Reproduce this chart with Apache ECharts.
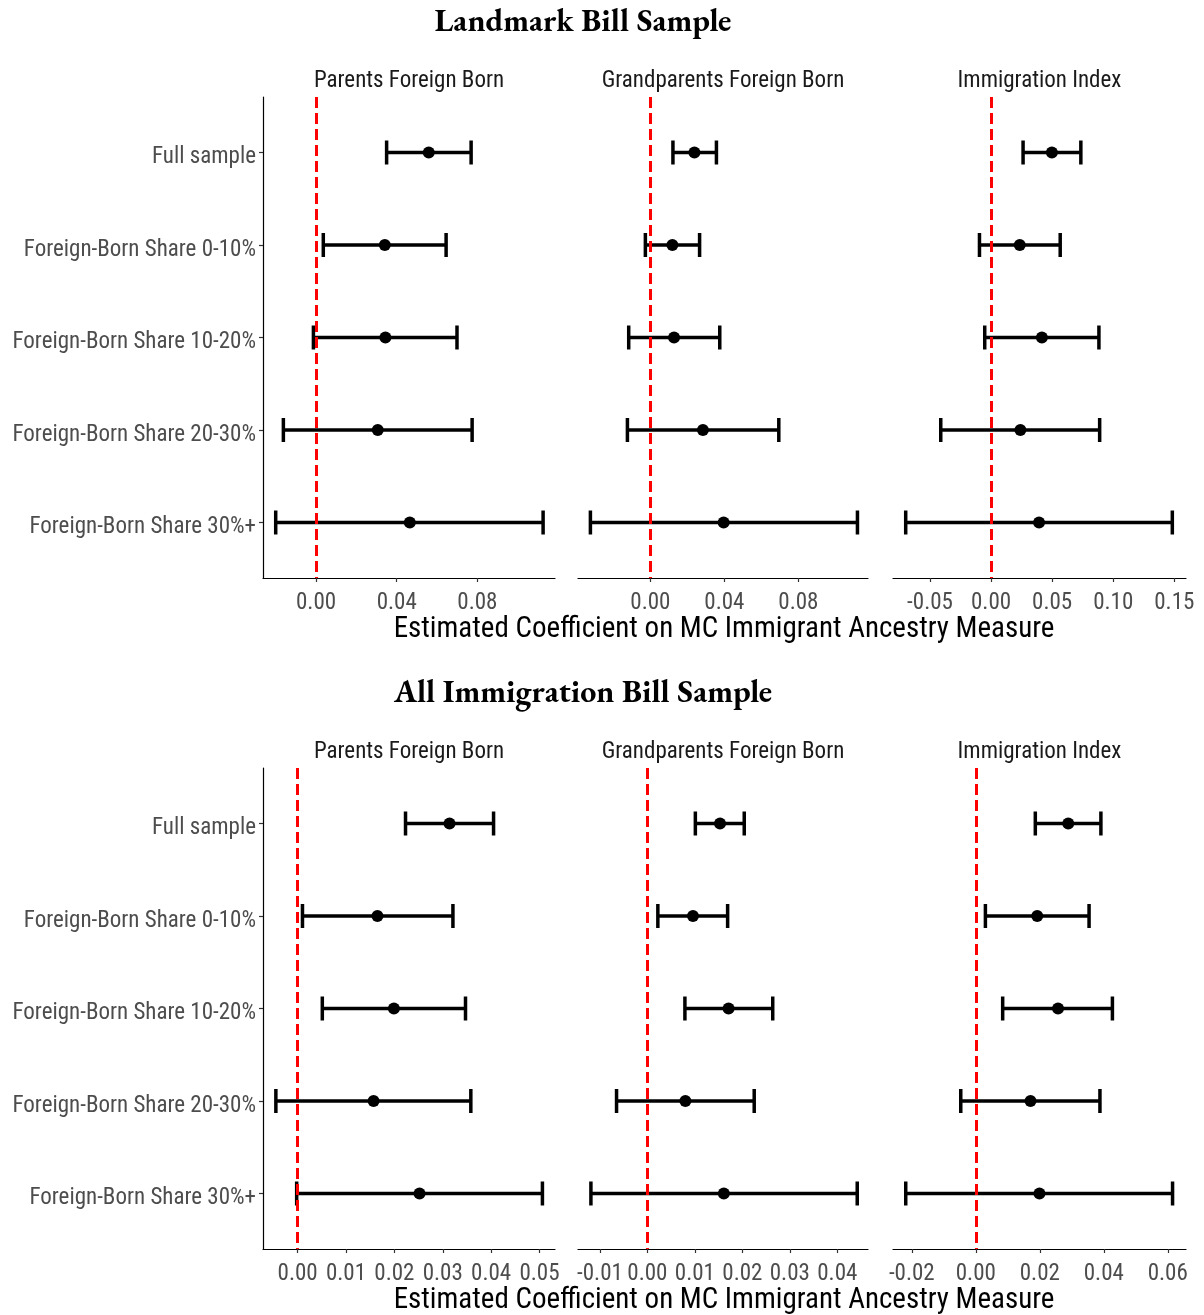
<!DOCTYPE html>
<html>
<head>
<meta charset="utf-8">
<script src="https://cdn.jsdelivr.net/npm/echarts@6/dist/echarts.min.js"></script>
<style>html,body{margin:0;padding:0;background:#fff}#main{width:1204px;height:1315px}</style>
</head>
<body>
<div id="main"></div>
<script>
// ---------- Data ----------
const categories = ["Full sample", "Foreign-Born Share 0-10%", "Foreign-Born Share 10-20%", "Foreign-Born Share 20-30%", "Foreign-Born Share 30%+"];
const panelTitles = ["Parents Foreign Born", "Grandparents Foreign Born", "Immigration Index"];
const sectionTitles = ["Landmark Bill Sample", "All Immigration Bill Sample"];
const xAxisTitle = "Estimated Coefficient on MC Immigrant Ancestry Measure";

// Landmark Bill Sample
const landmarkParentsEst  = [0.0559, 0.0341, 0.0344, 0.0306, 0.0465];
const landmarkParentsLow  = [0.0350, 0.0036, -0.0013, -0.0162, -0.0200];
const landmarkParentsHigh = [0.0769, 0.0645, 0.0699, 0.0774, 0.1126];

const landmarkGrandEst  = [0.0238, 0.0119, 0.0128, 0.0284, 0.0396];
const landmarkGrandLow  = [0.0122, -0.0027, -0.0117, -0.0124, -0.0324];
const landmarkGrandHigh = [0.0357, 0.0266, 0.0375, 0.0694, 0.1119];

const landmarkIndexEst  = [0.0498, 0.0235, 0.0416, 0.0240, 0.0393];
const landmarkIndexLow  = [0.0262, -0.0095, -0.0052, -0.0412, -0.0699];
const landmarkIndexHigh = [0.0735, 0.0566, 0.0883, 0.0889, 0.1484];

// All Immigration Bill Sample
const allParentsEst  = [0.0314, 0.0165, 0.0199, 0.0157, 0.0252];
const allParentsLow  = [0.0223, 0.0010, 0.0051, -0.0045, -0.0002];
const allParentsHigh = [0.0405, 0.0321, 0.0347, 0.0358, 0.0506];

const allGrandEst  = [0.0153, 0.0096, 0.0171, 0.0080, 0.0161];
const allGrandLow  = [0.0101, 0.0022, 0.0079, -0.0065, -0.0119];
const allGrandHigh = [0.0204, 0.0169, 0.0264, 0.0225, 0.0442];

const allIndexEst  = [0.0289, 0.0192, 0.0257, 0.0171, 0.0199];
const allIndexLow  = [0.0186, 0.0030, 0.0084, -0.0047, -0.0219];
const allIndexHigh = [0.0391, 0.0354, 0.0427, 0.0388, 0.0615];

// tick labels per panel
const landmarkParentsTicks = [0.00, 0.04, 0.08];
const landmarkGrandTicks   = [0.00, 0.04, 0.08];
const landmarkIndexTicks   = [-0.05, 0.00, 0.05, 0.10, 0.15];
const allParentsTicks = [0.00, 0.01, 0.02, 0.03, 0.04, 0.05];
const allGrandTicks   = [-0.01, 0.00, 0.01, 0.02, 0.03, 0.04];
const allIndexTicks   = [-0.02, 0.00, 0.02, 0.04, 0.06];

// axis ranges per panel
const landmarkParentsRange = [-0.0263, 0.1185];
const landmarkGrandRange   = [-0.0391, 0.1176];
const landmarkIndexRange   = [-0.0803, 0.1596];
const allParentsRange = [-0.00716, 0.0532];
const allGrandRange   = [-0.01462, 0.04647];
const allIndexRange   = [-0.02588, 0.0657];

// ---------- Build ----------
const panels = [
  {est: landmarkParentsEst, low: landmarkParentsLow, high: landmarkParentsHigh, ticks: landmarkParentsTicks, range: landmarkParentsRange},
  {est: landmarkGrandEst, low: landmarkGrandLow, high: landmarkGrandHigh, ticks: landmarkGrandTicks, range: landmarkGrandRange},
  {est: landmarkIndexEst, low: landmarkIndexLow, high: landmarkIndexHigh, ticks: landmarkIndexTicks, range: landmarkIndexRange},
  {est: allParentsEst, low: allParentsLow, high: allParentsHigh, ticks: allParentsTicks, range: allParentsRange},
  {est: allGrandEst, low: allGrandLow, high: allGrandHigh, ticks: allGrandTicks, range: allGrandRange},
  {est: allIndexEst, low: allIndexLow, high: allIndexHigh, ticks: allIndexTicks, range: allIndexRange}
];

const FONT = '"Roboto Condensed", Roboto, sans-serif';
const SERIF = '"EB Garamond", "Liberation Serif", serif';
const lefts = [263, 578, 893];
const widths = [292, 290, 293];
const tops = [97, 768];
const gridH = 481;
const yPos = [1, 2, 3, 4, 5];

const grids = [], xAxes = [], yAxes = [], series = [], graphics = [];

panels.forEach((p, i) => {
  const row = Math.floor(i / 3), col = i % 3;
  grids.push({left: lefts[col], top: tops[row], width: widths[col], height: gridH, containLabel: false});
  xAxes.push({
    type: 'value', gridIndex: i, min: p.range[0], max: p.range[1],
    splitLine: {show: false},
    axisLine: {show: true, onZero: false, lineStyle: {color: '#000', width: 1.2}},
    axisTick: {show: true, length: 4, customValues: p.ticks, lineStyle: {color: '#333', width: 1.2}},
    axisLabel: {show: true, customValues: p.ticks, margin: 14, color: '#4D4D4D', fontFamily: FONT, fontSize: 23,
      formatter: v => (Math.abs(v) < 1e-9 ? 0 : v).toFixed(2)}
  });
  const first = col === 0;
  yAxes.push({
    type: 'value', gridIndex: i, min: 0.4, max: 5.6, inverse: true,
    splitLine: {show: false},
    axisLine: {show: first, onZero: false, lineStyle: {color: '#000', width: 1.2}},
    axisTick: {show: first, length: 4, customValues: yPos, lineStyle: {color: '#333', width: 1.2}},
    axisLabel: {show: first, customValues: yPos, margin: 7, color: '#4D4D4D', fontFamily: FONT, fontSize: 23,
      verticalAlign: 'top', lineHeight: 10,
      formatter: v => categories[Math.round(v) - 1] || ''}
  });
  // error bars
  series.push({
    type: 'custom', xAxisIndex: i, yAxisIndex: i, z: 2,
    data: yPos.map((y, k) => [p.low[k], p.high[k], y]),
    encode: {x: [0, 1], y: 2},
    renderItem: (params, api) => {
      const a = api.coord([api.value(0), api.value(2)]);
      const b = api.coord([api.value(1), api.value(2)]);
      const h = 12;
      const st = {stroke: '#000', lineWidth: 3.5, fill: null};
      return {type: 'group', children: [
        {type: 'line', shape: {x1: a[0], y1: a[1], x2: b[0], y2: b[1]}, style: st},
        {type: 'line', shape: {x1: a[0], y1: a[1] - h, x2: a[0], y2: a[1] + h}, style: st},
        {type: 'line', shape: {x1: b[0], y1: b[1] - h, x2: b[0], y2: b[1] + h}, style: st}
      ]};
    }
  });
  // points
  series.push({
    type: 'scatter', xAxisIndex: i, yAxisIndex: i, z: 3,
    symbol: 'circle', symbolSize: 12, itemStyle: {color: '#000', opacity: 1},
    data: yPos.map((y, k) => [p.est[k], y])
  });
  // zero reference line
  series.push({
    type: 'scatter', xAxisIndex: i, yAxisIndex: i, z: 5, data: [],
    markLine: {silent: true, symbol: ['none', 'none'], label: {show: false}, animation: false,
      lineStyle: {color: '#FF0000', width: 3, type: [11, 5], opacity: 1},
      data: [{xAxis: 0}]}
  });
  // strip title
  graphics.push({type: 'text', x: lefts[col] + widths[col] / 2, y: tops[row] - 16,
    style: {text: panelTitles[col], align: 'center', verticalAlign: 'middle', fill: '#1A1A1A', font: '23px ' + FONT}});
});

sectionTitles.forEach((t, r) => {
  graphics.push({type: 'text', x: 583, y: r === 0 ? 22 : 693,
    style: {text: t, align: 'center', verticalAlign: 'middle', fill: '#000', font: 'bold 32px ' + SERIF}});
  graphics.push({type: 'text', x: 724, y: r === 0 ? 630 : 1301,
    style: {text: xAxisTitle, align: 'center', verticalAlign: 'middle', fill: '#000', font: '29px ' + FONT}});
});

const chart = echarts.init(document.getElementById('main'), null, {renderer: 'canvas'});
chart.setOption({
  animation: false,
  backgroundColor: '#fff',
  grid: grids, xAxis: xAxes, yAxis: yAxes, series: series, graphic: graphics
});
</script>
</body>
</html>
